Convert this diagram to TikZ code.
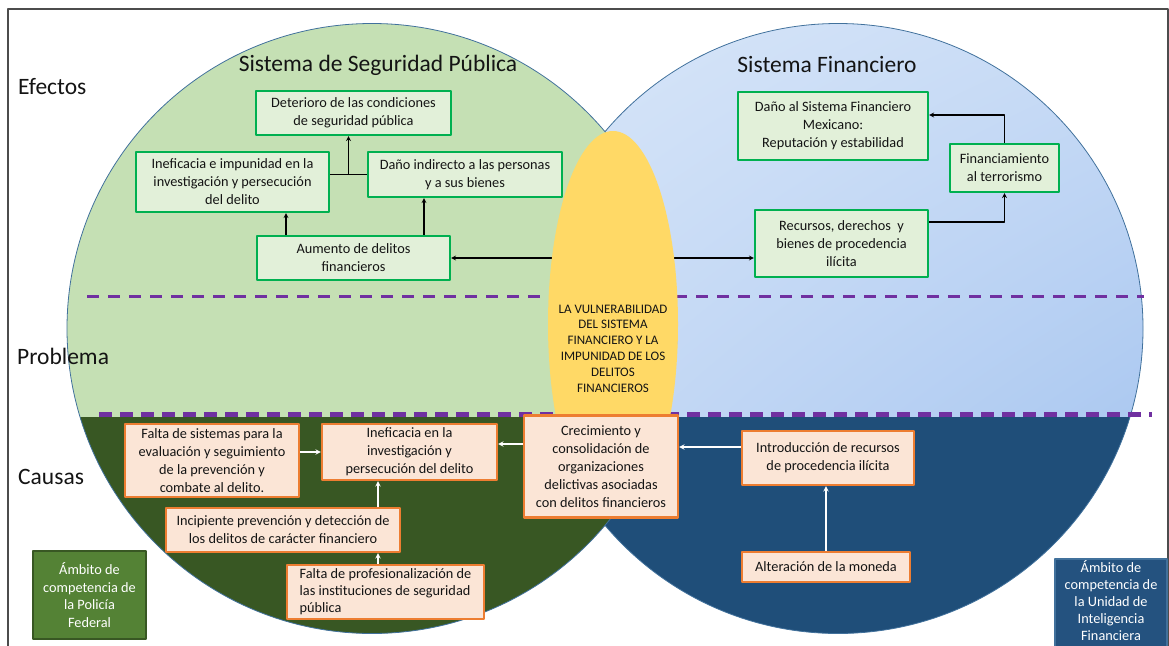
\documentclass[tikz,border=0pt]{standalone}
\usepackage{fontspec}
\setmainfont{Carlito}
\usetikzlibrary{shapes.geometric,calc,shadings}
\definecolor{verdeclaro}{HTML}{C5E0B4}
\definecolor{verdeosc}{HTML}{385723}
\definecolor{azulosc}{HTML}{1F4E79}
\definecolor{azulley}{HTML}{24527F}
\definecolor{azulA}{HTML}{D8E6F9}
\definecolor{azulB}{HTML}{C8DBF5}
\definecolor{azulC}{HTML}{ACC9F1}
\definecolor{amarillo}{HTML}{FFD966}
\definecolor{cajaverde}{HTML}{E2F0D9}
\definecolor{bordeverde}{HTML}{00B050}
\definecolor{cajanaranja}{HTML}{FBE5D6}
\definecolor{bordenaranja}{HTML}{ED7D31}
\definecolor{morado}{HTML}{7030A0}
\definecolor{contorno}{HTML}{41719C}
\definecolor{leyverde}{HTML}{548235}
\definecolor{texto}{HTML}{141414}

\begin{document}
\begin{tikzpicture}[x=1pt, y=-1pt, line join=round, >=stealth, text=texto,
  caja/.style={line width=2.2pt, align=center, inner sep=0pt, font=\fontsize{14.3}{18}\selectfont},
  efecto/.style={caja, draw=bordeverde, fill=cajaverde},
  causa/.style={caja, draw=bordenaranja, fill=cajanaranja},
  ambito/.style={line width=1.5pt, align=center, inner sep=0pt, text=white, font=\fontsize{14.3}{17.5}\selectfont},
  fila/.style={anchor=west, inner sep=0pt, font=\fontsize{23.5}{26}\selectfont},
  titulo/.style={inner sep=0pt, font=\fontsize{23.5}{26}\selectfont},
  flecha/.style={-stealth, line width=1.2pt, black},
  flechab/.style={-stealth, line width=1.4pt, white},
  corte/.style={morado, line width=3.5pt}]
\useasboundingbox (0,0) rectangle (1169,645);
\draw[line width=1.5pt, black!70] (8,9) rectangle (1168,680);

% circulos
\begin{scope}
  \clip (838,328.5) circle[radius=305];
  \shade[upper left=azulA, upper right=azulB, lower left=azulB, lower right=azulC] (533,23) rectangle (1143,417);
  \fill[azulosc] (533,417) rectangle (1143,634);
\end{scope}
\draw[contorno, line width=0.8pt] (838,328.5) circle[radius=305];
\begin{scope}
  \clip (372,328.5) circle[radius=305];
  \fill[verdeclaro] (67,23) rectangle (677,417);
  \fill[verdeosc] (67,417) rectangle (677,634);
\end{scope}
\draw[contorno, line width=0.8pt] (372,328.5) circle[radius=305];

\node[titulo] (tss) at (378,65) {Sistema de Seguridad Pública};
\node[titulo] (tsf) at (827,65) {Sistema Financiero};
\node[fila] (efe) at (18,87) {Efectos};
\node[fila] (pro) at (17,356) {Problema};
\node[fila] (cau) at (18,477) {Causas};

\draw[corte, dash pattern=on 12pt off 9pt] (87,296.5) -- (1144,296.5);
\draw[corte, line width=4.5pt, dash pattern=on 13pt off 8pt] (99,414.5) -- (1152,414.5);

% efectos
\node[efecto, minimum width=195, minimum height=44] (det) at (353.5,113) {Deterioro de las condiciones\\de seguridad pública};
\node[efecto, minimum width=193, minimum height=60] (inef) at (232.5,182) {Ineficacia e impunidad en la\\investigación y persecución\\del delito};
\node[efecto, minimum width=194, minimum height=45] (dan) at (465,174.5) {Daño indirecto a las personas\\y a sus bienes};
\node[efecto, minimum width=193, minimum height=44] (aum) at (353.5,258) {Aumento de delitos\\financieros};
\node[efecto, minimum width=190, minimum height=68] (dsf) at (833,126) {Daño al Sistema Financiero\\Mexicano:\\Reputación y estabilidad};
\node[efecto, minimum width=109, minimum height=48] (fin) at (1004.5,168) {Financiamiento\\al terrorismo};
\node[efecto, minimum width=173, minimum height=67] (rec) at (841.5,243.5) {Recursos, derechos\ \ y\\bienes de procedencia\\ilícita};

\coordinate (pc) at (613,324);
\draw[flecha] (aum.east -| pc) -- (aum.east);
\draw[flecha] (aum.east -| pc) -- (aum.east -| rec.west);

\node[ellipse, fill=amarillo, minimum width=130, minimum height=386, inner sep=0pt] (prob) at (pc) {};
\node[align=center, inner sep=0pt, font=\fontsize{13}{15.8}\selectfont] (ptx) at (613,348.5)
  {LA VULNERABILIDAD\\DEL SISTEMA\\FINANCIERO Y LA\\IMPUNIDAD DE LOS\\DELITOS\\FINANCIEROS};

% causas
\node[causa, minimum width=154, minimum height=102] (crec) at (601,466.5) {Crecimiento y\\consolidación de\\organizaciones\\delictivas asociadas\\con delitos financieros};
\node[causa, minimum width=174, minimum height=73] (fsis) at (212,460.5) {Falta de sistemas para la\\evaluación y seguimiento\\de la prevención y\\combate al delito.};
\node[causa, minimum width=175, minimum height=56] (inef2) at (409.5,452) {Ineficacia en la\\investigación y\\persecución del delito};
\node[causa, minimum width=234, minimum height=44] (inc) at (283,530) {Incipiente prevención y detección de\\los delitos de carácter financiero};
\node[causa, align=left, minimum width=197, minimum height=54, font=\fontsize{14.3}{17}\selectfont] (fpro) at (385.5,592) {Falta de profesionalización de\\las instituciones de seguridad\\pública};
\node[causa, minimum width=172, minimum height=54] (intro) at (828,458) {Introducción de recursos\\de procedencia ilícita};
\node[causa, minimum width=168, minimum height=30] (alt) at (826,567) {Alteración de la moneda};

% flechas efectos
\draw[flecha] (aum.north -| 286,0) -- (inef.south -| 286,0);
\draw[flecha] (aum.north -| 424,0) -- (dan.south -| 424,0);
\coordinate (jn) at ($(inef.east |- dan.west)!.5!(dan.west)$);
\draw[line width=1.2pt] (inef.east |- dan.west) -- (dan.west);
\draw[flecha] (jn) -- (jn |- det.south);
\draw[flecha] ([yshift=21.5pt]rec.east) -| (fin.south);
\draw[flecha] (fin.north) |- ([yshift=11pt]dsf.east);

% flechas causas
\draw[flechab] (inef2.west -| fsis.east) -- (inef2.west);
\draw[flechab] (inc.north -| 378,0) -- (inef2.south -| 378,0);
\draw[flechab] (fpro.north -| 378,0) -- (inc.south -| 378,0);
\draw[flechab] (crec.west |- 0,444) -- (inef2.east |- 0,444);
\draw[flechab] (intro.west |- 0,447) -- (crec.east |- 0,447);
\draw[flechab] (alt.north) -- (intro.south -| alt.north);

% ambitos
\node[ambito, fill=leyverde, draw=verdeosc, minimum width=113, minimum height=88] (pf) at (89.5,595) {Ámbito de\\competencia de\\la Policía\\Federal};
\node[ambito, fill=azulley, draw=contorno, minimum width=112, minimum height=93, font=\fontsize{14.3}{17}\selectfont] (uif) at (1111,605.5) {Ámbito de\\competencia de\\la Unidad de\\Inteligencia\\Financiera\\[-8pt]};
\end{tikzpicture}
\end{document}
